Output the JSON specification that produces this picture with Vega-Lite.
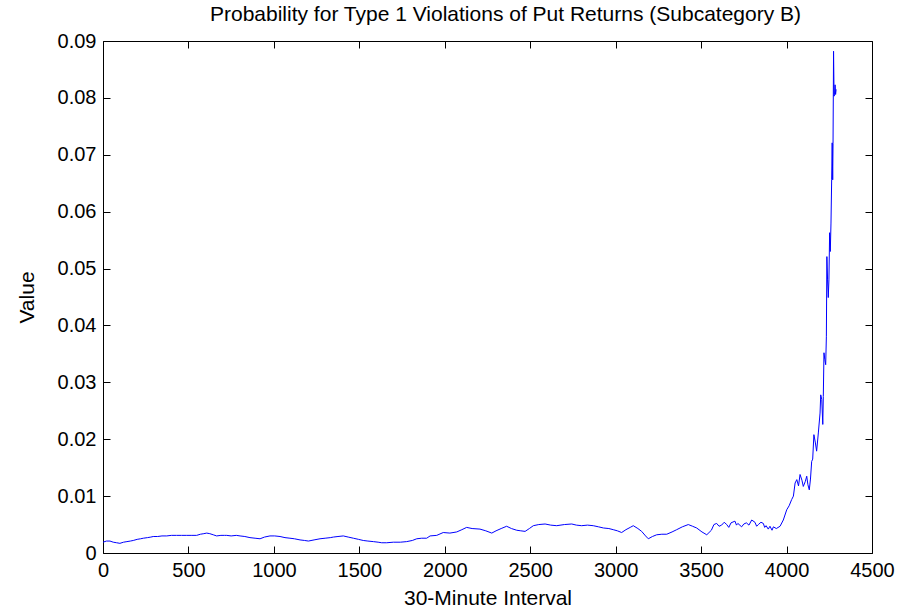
{
  "$schema": "https://vega.github.io/schema/vega-lite/v6.json",
  "width": 769,
  "height": 512,
  "autosize": {"type": "none"},
  "padding": {"left": 103, "top": 41, "right": 30, "bottom": 55},
  "background": "white",
  "title": {"text": "Probability for Type 1 Violations of Put Returns (Subcategory B)", "font": "Liberation Sans", "fontSize": 21, "fontWeight": "normal", "color": "black", "offset": 6, "dx": 18},
  "config": {
    "view": {"stroke": null},
    "axis": {"grid": false, "domainColor": "black", "domainWidth": 1, "tickColor": "black", "tickWidth": 1, "tickSize": -7, "labelFont": "Liberation Sans", "labelFontSize": 20, "labelColor": "black", "titleFont": "Liberation Sans", "titleFontSize": 21, "titleFontWeight": "normal", "titleColor": "black"}
  },
  "data": {"values": [
    {"interval": 0, "value": 0.0019}, {"interval": 20, "value": 0.0021}, {"interval": 41, "value": 0.0021}, {"interval": 60, "value": 0.0019}, {"interval": 80, "value": 0.0018}, {"interval": 99, "value": 0.0017}, {"interval": 120, "value": 0.0019}, {"interval": 140, "value": 0.0020}, {"interval": 160, "value": 0.0021}, {"interval": 177, "value": 0.0022}, {"interval": 200, "value": 0.0024}, {"interval": 220, "value": 0.0025}, {"interval": 236, "value": 0.0026}, {"interval": 260, "value": 0.0027}, {"interval": 280, "value": 0.0028}, {"interval": 294, "value": 0.0029}, {"interval": 320, "value": 0.0029}, {"interval": 345, "value": 0.0030}, {"interval": 373, "value": 0.0030}, {"interval": 400, "value": 0.0031}, {"interval": 430, "value": 0.0031}, {"interval": 460, "value": 0.0031}, {"interval": 490, "value": 0.0031}, {"interval": 520, "value": 0.0031}, {"interval": 548, "value": 0.0031}, {"interval": 570, "value": 0.0033}, {"interval": 590, "value": 0.0034}, {"interval": 607, "value": 0.0035}, {"interval": 625, "value": 0.0034}, {"interval": 645, "value": 0.0032}, {"interval": 665, "value": 0.0030}, {"interval": 690, "value": 0.0031}, {"interval": 710, "value": 0.0031}, {"interval": 724, "value": 0.0031}, {"interval": 750, "value": 0.0030}, {"interval": 780, "value": 0.0031}, {"interval": 802, "value": 0.0030}, {"interval": 830, "value": 0.0029}, {"interval": 860, "value": 0.0027}, {"interval": 890, "value": 0.0026}, {"interval": 919, "value": 0.0025}, {"interval": 945, "value": 0.0028}, {"interval": 977, "value": 0.0030}, {"interval": 1005, "value": 0.0030}, {"interval": 1036, "value": 0.0029}, {"interval": 1065, "value": 0.0027}, {"interval": 1094, "value": 0.0026}, {"interval": 1120, "value": 0.0025}, {"interval": 1153, "value": 0.0023}, {"interval": 1180, "value": 0.0022}, {"interval": 1202, "value": 0.0021}, {"interval": 1235, "value": 0.0023}, {"interval": 1270, "value": 0.0025}, {"interval": 1300, "value": 0.0026}, {"interval": 1330, "value": 0.0027}, {"interval": 1348, "value": 0.0028}, {"interval": 1375, "value": 0.0029}, {"interval": 1406, "value": 0.0030}, {"interval": 1435, "value": 0.0028}, {"interval": 1465, "value": 0.0026}, {"interval": 1495, "value": 0.0024}, {"interval": 1523, "value": 0.0022}, {"interval": 1550, "value": 0.0021}, {"interval": 1582, "value": 0.0020}, {"interval": 1610, "value": 0.0019}, {"interval": 1631, "value": 0.0018}, {"interval": 1660, "value": 0.0018}, {"interval": 1699, "value": 0.0019}, {"interval": 1740, "value": 0.0019}, {"interval": 1777, "value": 0.0020}, {"interval": 1810, "value": 0.0022}, {"interval": 1836, "value": 0.0025}, {"interval": 1865, "value": 0.0026}, {"interval": 1894, "value": 0.0026}, {"interval": 1914, "value": 0.0030}, {"interval": 1953, "value": 0.0031}, {"interval": 1991, "value": 0.0036}, {"interval": 2030, "value": 0.0035}, {"interval": 2070, "value": 0.0037}, {"interval": 2100, "value": 0.0041}, {"interval": 2128, "value": 0.0045}, {"interval": 2160, "value": 0.0043}, {"interval": 2206, "value": 0.0042}, {"interval": 2240, "value": 0.0039}, {"interval": 2275, "value": 0.0035}, {"interval": 2300, "value": 0.0039}, {"interval": 2330, "value": 0.0043}, {"interval": 2362, "value": 0.0047}, {"interval": 2390, "value": 0.0043}, {"interval": 2421, "value": 0.0040}, {"interval": 2445, "value": 0.0039}, {"interval": 2470, "value": 0.0038}, {"interval": 2495, "value": 0.0043}, {"interval": 2518, "value": 0.0048}, {"interval": 2550, "value": 0.0050}, {"interval": 2587, "value": 0.0051}, {"interval": 2620, "value": 0.0049}, {"interval": 2655, "value": 0.0048}, {"interval": 2700, "value": 0.0050}, {"interval": 2743, "value": 0.0051}, {"interval": 2770, "value": 0.0049}, {"interval": 2801, "value": 0.0048}, {"interval": 2835, "value": 0.0049}, {"interval": 2869, "value": 0.0048}, {"interval": 2900, "value": 0.0046}, {"interval": 2928, "value": 0.0044}, {"interval": 2960, "value": 0.0043}, {"interval": 2986, "value": 0.0041}, {"interval": 3010, "value": 0.0039}, {"interval": 3035, "value": 0.0036}, {"interval": 3060, "value": 0.0041}, {"interval": 3085, "value": 0.0045}, {"interval": 3103, "value": 0.0048}, {"interval": 3130, "value": 0.0043}, {"interval": 3152, "value": 0.0038}, {"interval": 3175, "value": 0.0030}, {"interval": 3191, "value": 0.0025}, {"interval": 3215, "value": 0.0029}, {"interval": 3240, "value": 0.0032}, {"interval": 3270, "value": 0.0033}, {"interval": 3299, "value": 0.0033}, {"interval": 3330, "value": 0.0037}, {"interval": 3357, "value": 0.0041}, {"interval": 3390, "value": 0.0046}, {"interval": 3425, "value": 0.0050}, {"interval": 3450, "value": 0.0047}, {"interval": 3474, "value": 0.0044}, {"interval": 3505, "value": 0.0037}, {"interval": 3533, "value": 0.0032}, {"interval": 3560, "value": 0.0040}, {"interval": 3575, "value": 0.0050}, {"interval": 3591, "value": 0.0052}, {"interval": 3605, "value": 0.0047}, {"interval": 3620, "value": 0.0049}, {"interval": 3635, "value": 0.0054}, {"interval": 3650, "value": 0.0050}, {"interval": 3662, "value": 0.0045}, {"interval": 3675, "value": 0.0053}, {"interval": 3698, "value": 0.0056}, {"interval": 3707, "value": 0.0049}, {"interval": 3715, "value": 0.0052}, {"interval": 3737, "value": 0.0046}, {"interval": 3750, "value": 0.0051}, {"interval": 3765, "value": 0.0053}, {"interval": 3780, "value": 0.0049}, {"interval": 3796, "value": 0.0058}, {"interval": 3815, "value": 0.0054}, {"interval": 3825, "value": 0.0047}, {"interval": 3835, "value": 0.0050}, {"interval": 3850, "value": 0.0054}, {"interval": 3864, "value": 0.0052}, {"interval": 3872, "value": 0.0045}, {"interval": 3880, "value": 0.0048}, {"interval": 3893, "value": 0.0042}, {"interval": 3903, "value": 0.0047}, {"interval": 3915, "value": 0.0040}, {"interval": 3923, "value": 0.0046}, {"interval": 3940, "value": 0.0043}, {"interval": 3962, "value": 0.0047}, {"interval": 3981, "value": 0.0058}, {"interval": 4001, "value": 0.0076}, {"interval": 4015, "value": 0.0083}, {"interval": 4030, "value": 0.0094}, {"interval": 4040, "value": 0.0100}, {"interval": 4050, "value": 0.0123}, {"interval": 4060, "value": 0.0129}, {"interval": 4070, "value": 0.0118}, {"interval": 4079, "value": 0.0138}, {"interval": 4090, "value": 0.0128}, {"interval": 4098, "value": 0.0117}, {"interval": 4110, "value": 0.0126}, {"interval": 4118, "value": 0.0135}, {"interval": 4125, "value": 0.0120}, {"interval": 4133, "value": 0.0111}, {"interval": 4140, "value": 0.0130}, {"interval": 4147, "value": 0.0161}, {"interval": 4153, "value": 0.0165}, {"interval": 4160, "value": 0.0208}, {"interval": 4168, "value": 0.0195}, {"interval": 4176, "value": 0.0179}, {"interval": 4186, "value": 0.0211}, {"interval": 4196, "value": 0.0246}, {"interval": 4200, "value": 0.0278}, {"interval": 4206, "value": 0.0270}, {"interval": 4212, "value": 0.0226}, {"interval": 4215, "value": 0.0275}, {"interval": 4219, "value": 0.0352}, {"interval": 4224, "value": 0.0340}, {"interval": 4229, "value": 0.0331}, {"interval": 4233, "value": 0.0380}, {"interval": 4236, "value": 0.0521}, {"interval": 4240, "value": 0.0480}, {"interval": 4244, "value": 0.0449}, {"interval": 4248, "value": 0.0480}, {"interval": 4252, "value": 0.0563}, {"interval": 4256, "value": 0.0530}, {"interval": 4260, "value": 0.0580}, {"interval": 4264, "value": 0.0656}, {"interval": 4267, "value": 0.0721}, {"interval": 4270, "value": 0.0656}, {"interval": 4272, "value": 0.0720}, {"interval": 4275, "value": 0.0882}, {"interval": 4278, "value": 0.0803}, {"interval": 4281, "value": 0.0806}, {"interval": 4284, "value": 0.0823}, {"interval": 4287, "value": 0.0806}, {"interval": 4290, "value": 0.0815}
  ]},
  "layer": [
    {
      "mark": {"type": "line", "color": "#0000ff", "strokeWidth": 1, "interpolate": "linear"},
      "encoding": {
        "x": {"field": "interval", "type": "quantitative", "scale": {"domain": [0, 4500], "nice": false, "zero": false}, "axis": {"orient": "bottom", "title": "30-Minute Interval", "values": [0, 500, 1000, 1500, 2000, 2500, 3000, 3500, 4000, 4500], "format": "d", "labelPadding": 14, "titlePadding": 7, "labelFlush": false, "labelOverlap": false}},
        "y": {"field": "value", "type": "quantitative", "scale": {"domain": [0, 0.09], "nice": false}, "axis": {"orient": "left", "title": "Value", "values": [0, 0.01, 0.02, 0.03, 0.04, 0.05, 0.06, 0.07, 0.08, 0.09], "labelExpr": "datum.value == 0 ? '0' : format(datum.value, '.2f')", "labelPadding": 14, "titlePadding": 20, "labelFlush": false, "labelOverlap": false}}
      }
    },
    {
      "mark": {"type": "line", "opacity": 0},
      "encoding": {
        "x": {"field": "interval", "type": "quantitative", "axis": {"orient": "top", "title": null, "labels": false, "values": [0, 500, 1000, 1500, 2000, 2500, 3000, 3500, 4000, 4500]}},
        "y": {"field": "value", "type": "quantitative", "axis": {"orient": "right", "title": null, "labels": false, "values": [0, 0.01, 0.02, 0.03, 0.04, 0.05, 0.06, 0.07, 0.08, 0.09]}}
      }
    }
  ],
  "resolve": {"axis": {"x": "independent", "y": "independent"}}
}
